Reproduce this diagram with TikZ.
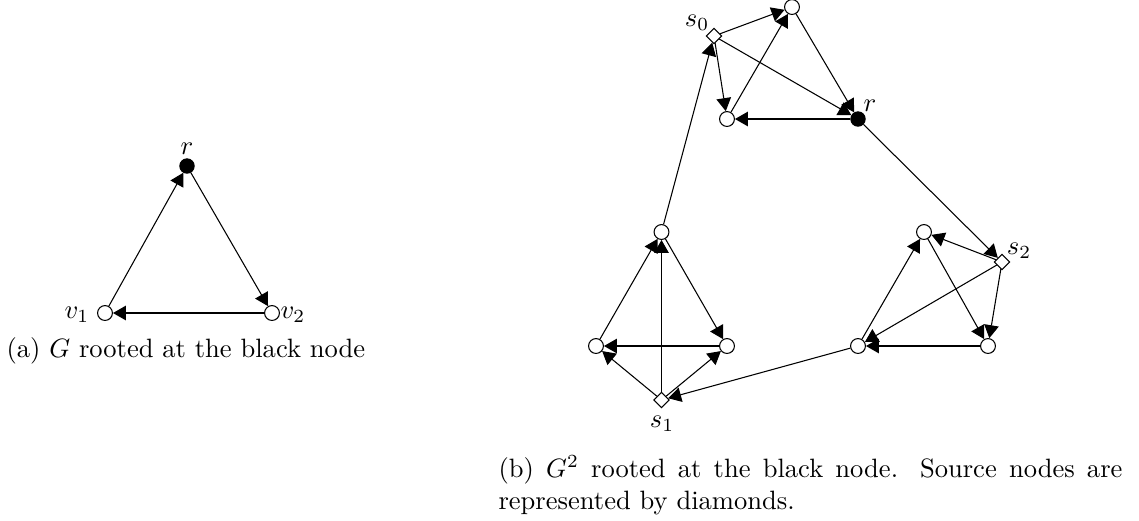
\documentclass[tikz,border=0pt]{standalone}
\usetikzlibrary{arrows.meta,shapes.geometric}
\begin{document}
\begin{tikzpicture}[x=0.37665pt,y=-0.37665pt,
  wn/.style={circle,draw,fill=white,inner sep=0pt,minimum size=5.6pt},
  bn/.style={circle,draw,fill=black,inner sep=0pt,minimum size=5.4pt},
  dn/.style={diamond,draw,fill=white,inner sep=0pt,minimum size=5.9pt},
  arr/.style={-{Triangle[length=4.9pt,width=5.5pt]}},
  lab/.style={inner sep=0pt}]
\useasboundingbox (0,0) rectangle (1139,520);
% ---- (a) ----
\node[bn] (r) at (187,166) {};
\node[wn] (v1) at (105,313) {};
\node[wn] (v2) at (272,313) {};
\node[lab] (lr) at (187,149) {$r$};
\node[lab] (lv1) at (77,315) {$v_1$};
\node[lab] (lv2) at (293,315) {$v_2$};
\draw[arr] (v1) -- (r);
\draw[arr] (r) -- (v2);
\draw[arr] (v2) -- (v1);
\node[lab,anchor=base west] (capa) at (6,357) {(a) $G$ rooted at the black node};
% ---- (b) ----
\node[dn] (s0) at (714,36) {};
\node[wn] (t0) at (792,7) {};
\node[wn] (l0) at (727,119) {};
\node[bn] (R) at (858,119) {};
\node[wn] (t1) at (661.5,232) {};
\node[wn] (a1) at (596,346) {};
\node[wn] (b1) at (727,346) {};
\node[dn] (s1) at (661.5,400) {};
\node[wn] (t2) at (924,232) {};
\node[dn] (s2) at (1002,262) {};
\node[wn] (a2) at (858,346) {};
\node[wn] (b2) at (988,346) {};
\node[lab] (ls0) at (697,23) {$s_0$};
\node[lab] (lR) at (870,106) {$r$};
\node[lab] (ls1) at (662,424) {$s_1$};
\node[lab] (ls2) at (1019,251) {$s_2$};
\draw[arr] (s0) -- (t0);
\draw[arr] (l0) -- (t0);
\draw[arr] (s0) -- (l0);
\draw[arr] (t0) -- (R);
\draw[arr] (s0) -- (R);
\draw[arr] (R) -- (l0);
\draw[arr] (R) -- (s2);
\draw[arr] (t1) -- (s0);
\draw[arr] (s1) -- (t1);
\draw[arr] (a1) -- (t1);
\draw[arr] (t1) -- (b1);
\draw[arr] (b1) -- (a1);
\draw[arr] (s1) -- (a1);
\draw[arr] (s1) -- (b1);
\draw[arr] (a2) -- (s1);
\draw[arr] (s2) -- (t2);
\draw[arr] (a2) -- (t2);
\draw[arr] (t2) -- (b2);
\draw[arr] (s2) -- (b2);
\draw[arr] (s2) -- (a2);
\draw[arr] (b2) -- (a2);
\node[lab,anchor=north west,text width=235pt,align=justify] (capb) at (498,455)
  {(b) $G^2$ rooted at the black node. Source nodes are represented by diamonds.};
\end{tikzpicture}
\end{document}
